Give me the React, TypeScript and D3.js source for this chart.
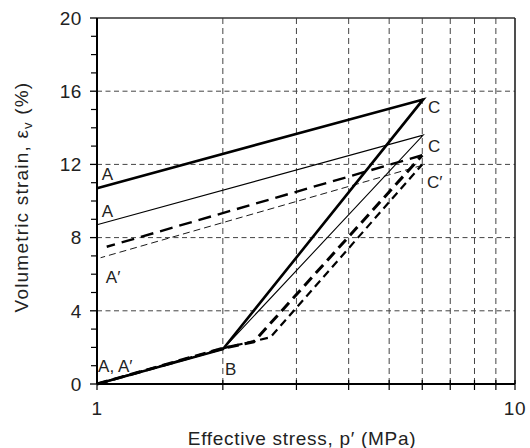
import * as d3 from "d3";

const W = 530;
const H = 448;
const margin = { top: 18, right: 15, bottom: 64, left: 97 };

// axis ticks
const xLabelTicks = [1, 10];
const xGridTicks = [2, 3, 4, 5, 6, 7, 8, 9];
const yLabelTicks = [0, 4, 8, 12, 16, 20];
const yGridTicks = [4, 8, 12, 16];
const yMinorTicks = [1, 2, 3, 5, 6, 7, 9, 10, 11, 13, 14, 15, 17, 18, 19];

// [p' (MPa), volumetric strain (%)]
const thickSolid: [number, number][] = [[1, 0], [2, 1.9], [6.03, 15.55], [1, 10.7]];
const thinSolid: [number, number][] = [[1, 0], [2, 1.9], [6.03, 13.6], [1, 8.7]];
const thickDashedLoad: [number, number][] = [[1, 0], [2, 1.95], [2.37, 2.3], [6.0, 12.5]];
const thickDashedUnload: [number, number][] = [[6.0, 12.5], [1.055, 7.5]];
const thinDashedLoad: [number, number][] = [[1, 0], [2, 1.95], [2.6, 2.55], [6.0, 12.0]];
const thinDashedUnload: [number, number][] = [[6.0, 11.95], [1.02, 6.9]];

const pointLabels = [
  { text: "A", x: 1.026, y: 11.15 },
  { text: "A", x: 1.026, y: 9.13 },
  { text: "A\u2032", x: 1.05, y: 5.52 },
  { text: "A, A\u2032", x: 1.006, y: 0.66 },
  { text: "B", x: 2.024, y: 0.49 },
  { text: "C", x: 6.19, y: 14.81 },
  { text: "C", x: 6.19, y: 12.68 },
  { text: "C\u2032", x: 6.16, y: 10.71 },
];

const FONT = "'Liberation Sans', Arial, Helvetica, sans-serif";

export default function App() {
  const iw = W - margin.left - margin.right;
  const ih = H - margin.top - margin.bottom;
  const x = d3.scaleLog().domain([1, 10]).range([0, iw]);
  const y = d3.scaleLinear().domain([0, 20]).range([ih, 0]);
  const line = d3
    .line<[number, number]>()
    .x((d) => x(d[0]))
    .y((d) => y(d[1]));

  const series = [
    { pts: thinDashedUnload, w: 0.9, dash: "7,4" },
    { pts: thinDashedLoad, w: 2.2, dash: "8,5" },
    { pts: thickDashedUnload, w: 2.4, dash: "13,7" },
    { pts: thickDashedLoad, w: 3, dash: "11,6" },
    { pts: thinSolid, w: 1.1, dash: undefined },
    { pts: thickSolid, w: 2.6, dash: undefined },
  ];

  return (
    <svg
      width={W}
      height={H}
      style={{ position: "absolute", left: 0, top: 0, background: "#fff" }}
      fontFamily={FONT}
    >
      <g transform={`translate(${margin.left},${margin.top})`}>
        {/* grid */}
        {xGridTicks.map((t) => (
          <line key={"gx" + t} x1={x(t)} x2={x(t)} y1={0} y2={ih} stroke="#444" strokeWidth={1} strokeDasharray="6,4" />
        ))}
        {yGridTicks.map((t) => (
          <line key={"gy" + t} x1={0} x2={iw} y1={y(t)} y2={y(t)} stroke="#444" strokeWidth={1} strokeDasharray="5,3.5" />
        ))}

        {/* frame */}
        <line x1={0} x2={iw} y1={0} y2={0} stroke="#333" strokeWidth={1.4} />
        <line x1={iw} x2={iw} y1={0} y2={ih} stroke="#222" strokeWidth={1.6} />

        {/* curves */}
        {series.map((s, i) => (
          <path
            key={i}
            d={line(s.pts) || ""}
            fill="none"
            stroke="#000"
            strokeWidth={s.w}
            strokeDasharray={s.dash}
            strokeLinejoin="miter"
          />
        ))}

        {/* y axis */}
        <line x1={0} x2={0} y1={0} y2={ih} stroke="#000" strokeWidth={2} />
        {yLabelTicks.map((t) => (
          <g key={"yt" + t} transform={`translate(0,${y(t)})`}>
            <line x1={-7} x2={0} stroke="#000" strokeWidth={1.3} />
            <text x={-15} dy="0.36em" textAnchor="end" fontSize={19} letterSpacing={0.6} fill="#222">
              {t}
            </text>
          </g>
        ))}
        {yMinorTicks.map((t) => (
          <line key={"ym" + t} x1={-6} x2={0} y1={y(t)} y2={y(t)} stroke="#000" strokeWidth={1.2} />
        ))}

        {/* x axis */}
        <line x1={0} x2={iw} y1={ih} y2={ih} stroke="#000" strokeWidth={2} />
        {xGridTicks.map((t) => (
          <line key={"xt" + t} x1={x(t)} x2={x(t)} y1={ih - 4} y2={ih + 6} stroke="#000" strokeWidth={1.2} />
        ))}
        {xLabelTicks.map((t) => (
          <g key={"xl" + t} transform={`translate(${x(t)},${ih})`}>
            <line y1={-4} y2={6} stroke="#000" strokeWidth={1.2} />
            <text y={31} textAnchor="middle" fontSize={19} letterSpacing={0.6} fill="#222">
              {t}
            </text>
          </g>
        ))}

        {/* point labels */}
        {pointLabels.map((l, i) => (
          <text key={"pl" + i} x={x(l.x)} y={y(l.y)} fontSize={17} fill="#222">
            {l.text}
          </text>
        ))}
      </g>

      {/* axis titles */}
      <text x={302} y={445} textAnchor="middle" fontSize={19} letterSpacing={0.7} fill="#222">
        Effective stress, p{"\u2032"} (MPa)
      </text>
      <text transform="translate(28,197) rotate(-90)" textAnchor="middle" fontSize={19} letterSpacing={1.2} fill="#222">
        Volumetric strain, {"\u03b5"}
        <tspan fontSize={13} dy={4}>v</tspan>
        <tspan dy={-4}> (%)</tspan>
      </text>
    </svg>
  );
}
